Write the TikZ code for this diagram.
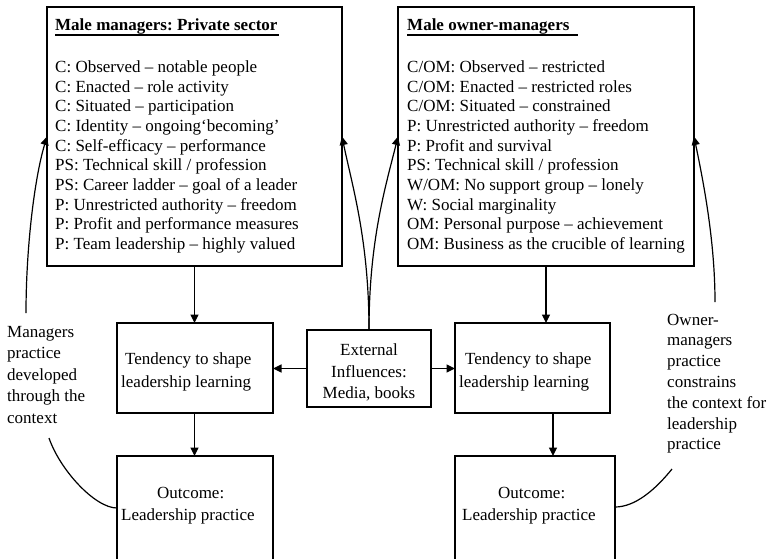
\documentclass[tikz,border=0pt]{standalone}
\usepackage{fontspec}
\setmainfont{Liberation Serif}
\frenchspacing
\usetikzlibrary{arrows.meta}
\begin{document}
\begin{tikzpicture}[x=1pt,y=-1pt,
  every node/.style={font=\fontsize{17}{20}\selectfont, inner sep=0pt},
  box/.style={draw, line width=1.4pt, inner sep=0pt, outer sep=0pt, anchor=north west},
  txt/.style={anchor=base west},
  ctr/.style={anchor=base},
  link/.style={line width=1.2pt},
  arr/.style={link, -{Triangle[length=8.5pt,width=8pt]}},
  ul/.style={line width=1.6pt},
  ]
\useasboundingbox (0,0) rectangle (771,558);

% frames
\node[box, minimum width=295pt, minimum height=259pt] (lbox) at (47,7) {};
\node[box, minimum width=296pt, minimum height=259pt] (rbox) at (398,7) {};
\node[box, minimum width=156pt, minimum height=90pt] (lt) at (117,323) {};
\node[box, minimum width=155pt, minimum height=90pt] (rt) at (455,323) {};
\node[box, minimum width=124pt, minimum height=77pt] (ex) at (307,330) {};
% outcome frames run past the lower edge of the page
\node[box, minimum width=156pt, minimum height=130pt] (lo) at (117,456) {};
\node[box, minimum width=160pt, minimum height=130pt] (ro) at (455,456) {};

% headings
\node[txt, font=\fontsize{17}{20}\selectfont\bfseries] (lhead) at (55,30.7) {Male managers: Private sector};
\draw[ul] ([yshift=-4.5pt]lhead.base west) -- ++(224,0);
\node[txt, font=\fontsize{17}{20}\selectfont\bfseries] (rhead) at (407,30.7) {Male owner-managers};
\draw[ul] ([yshift=-4.5pt]rhead.base west) -- ++(171,0);

% left list
\foreach \t [count=\i from 0] in {
  {C: Observed – notable people},
  {C: Enacted – role activity},
  {C: Situated – participation},
  {C: Identity – ongoing‘becoming’},
  {C: Self-efficacy – performance},
  {PS: Technical skill / profession},
  {PS: Career ladder – goal of a leader},
  {P: Unrestricted authority – freedom},
  {P: Profit and performance measures},
  {P: Team leadership – highly valued}}
  \node[txt] (la\i) at (55, 72.7+19.62*\i) {\t};

% right list
\foreach \t [count=\i from 0] in {
  {C/OM: Observed – restricted},
  {C/OM: Enacted – restricted roles},
  {C/OM: Situated – constrained},
  {P: Unrestricted authority – freedom},
  {P: Profit and survival},
  {PS: Technical skill / profession},
  {W/OM: No support group – lonely},
  {W: Social marginality},
  {OM: Personal purpose – achievement},
  {OM: Business as the crucible of learning}}
  \node[txt] (ra\i) at (407, 72.7+19.62*\i) {\t};

% middle row texts
\node[txt] (lt1) at (125,364) {Tendency to shape};
\node[txt] (lt2) at (121,387) {leadership learning};
\node[txt] (rt1) at (465,364) {Tendency to shape};
\node[txt] (rt2) at (459,387) {leadership learning};
\node[ctr] (ex1) at (369,355) {External};
\node[ctr] (ex2) at (369,377) {Influences:};
\node[ctr] (ex3) at (369,398.5) {Media, books};

% outcome texts
\node[txt] (lo1) at (157,498) {Outcome:};
\node[txt] (lo2) at (121,520) {Leadership practice};
\node[txt] (ro1) at (498,498) {Outcome:};
\node[txt] (ro2) at (462,520) {Leadership practice};

% side notes
\foreach \t [count=\i from 0] in {Managers, practice, developed, through the, context}
  \node[txt] (ln\i) at (7, 337.5+21.4*\i) {\t};
\foreach \t [count=\i from 0] in {Owner-, managers, practice, constrains, the context for, leadership, practice}
  \node[txt] (rn\i) at (667, 325+20.8*\i) {\t};

% flow arrows
\coordinate (lax) at (194.5,0);
\coordinate (rax) at (546,0);
\coordinate (rbx) at (553,0);
\draw[arr] (lbox.south -| lax) -- (lt.north -| lax);
\draw[arr] (lt.south -| lax) -- (lo.north -| lax);
\draw[arr] (rbox.south -| rax) -- (rt.north -| rax);
\draw[arr] (rt.south -| rbx) -- (ro.north -| rbx);
\draw[arr] (ex.west) -- (ex.west -| lt.east);
\draw[arr] (ex.east) -- (ex.east -| rt.west);

% external influences feed both contexts
\draw[arr] (ex.north) .. controls (369,240) and (352,185) .. (lbox.east);
\draw[arr] (ex.north) .. controls (369,240) and (386,185) .. (rbox.west);

% feedback from the notes
\coordinate (lup) at (26,313);
\coordinate (rup) at (715,302);
\draw[arr] (lup) .. controls (26,250) and (34,180) .. (lbox.west);
\draw[arr] (rup) .. controls (715,240) and (703,180) .. (rbox.east);

% outcomes back to the notes
\coordinate (llow) at (49,438);
\coordinate (rlow) at (672,469);
\draw[link] ([yshift=-52pt]lo.north west) .. controls (95,508) and (60,470) .. (llow);
\draw[link] ([yshift=-51pt]ro.north east) .. controls (635,507) and (655,490) .. (rlow);
\end{tikzpicture}
\end{document}
